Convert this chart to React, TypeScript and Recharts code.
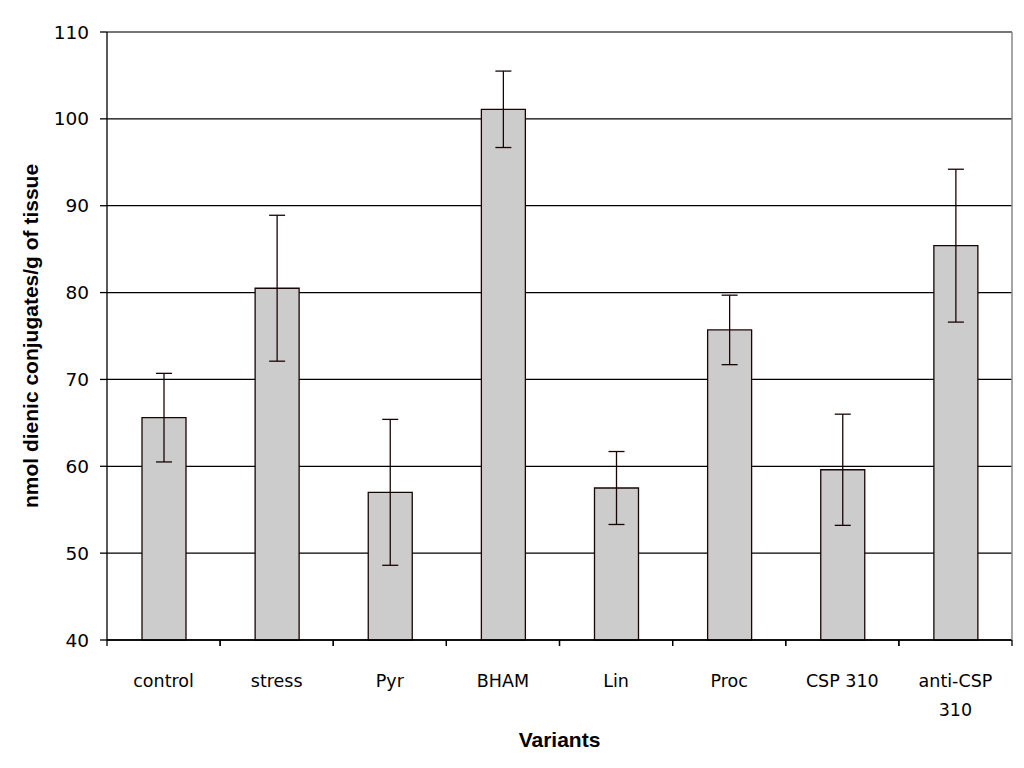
import { Bar, BarChart, CartesianGrid, ErrorBar, Label, ReferenceLine, XAxis, YAxis } from 'recharts';

// values
const variants = ['control', 'stress', 'Pyr', 'BHAM', 'Lin', 'Proc', 'CSP 310', 'anti-CSP 310'];
const means = [65.6, 80.5, 57.0, 101.1, 57.5, 75.7, 59.6, 85.4];
const errors = [5.1, 8.4, 8.4, 4.4, 4.2, 4.0, 6.4, 8.8];
const yTicks = [40, 50, 60, 70, 80, 90, 100, 110];

const data = variants.map((name, i) => ({ name, value: means[i], err: errors[i] }));

const labelFont = '"Liberation Sans", Arial, sans-serif';
const tickFont = '"DejaVu Sans", Verdana, sans-serif';

// x axis is drawn with tickMargin 0 and no tick lines, so y is the axis line
function CategoryTick({ x, y, payload }: any) {
  const text: string = payload.value;
  const half = payload.offset ?? 56.5;
  // long labels wrap at the last space, like the original
  const cut = text.lastIndexOf(' ');
  const lines = text.length > 8 ? [text.slice(0, cut), text.slice(cut + 1)] : [text];
  return (
    <g>
      <line x1={x - half} x2={x - half} y1={y} y2={y + 6} stroke="#000" strokeWidth={1.3} />
      <line x1={x + half} x2={x + half} y1={y} y2={y + 6} stroke="#000" strokeWidth={1.3} />
      <text x={x} y={y + 47} textAnchor="middle" fontFamily={tickFont} fontSize={17.5} fill="#000">
        {lines.map((l, i) => (
          <tspan key={i} x={x} dy={i === 0 ? 0 : 29}>
            {l}
          </tspan>
        ))}
      </text>
    </g>
  );
}

export default function App() {
  return (
    <div style={{ width: 1024, height: 768 }}>
      <style>{'body{margin:0}'}</style>
      <BarChart
        width={1024}
        height={768}
        data={data}
        margin={{ top: 32, right: 0, left: 0, bottom: 0 }}
        barSize={44}
      >
        <CartesianGrid vertical={false} stroke="#000" strokeWidth={1.3} />
        <ReferenceLine y={110} stroke="#888" strokeWidth={1.5} />
        <XAxis
          dataKey="name"
          height={128}
          stroke="#000"
          strokeWidth={1.3}
          tickLine={false}
          tickSize={0}
          tickMargin={0}
          interval={0}
          tick={<CategoryTick />}
        >
          <Label
            content={({ viewBox }: any) => (
              <text
                x={viewBox.x + viewBox.width / 2}
                y={747}
                textAnchor="middle"
                fontFamily={labelFont}
                fontWeight="bold"
                fontSize={21}
                fill="#000"
              >
                Variants
              </text>
            )}
          />
        </XAxis>
        <YAxis
          domain={[40, 110]}
          ticks={yTicks}
          width={107}
          tickSize={7}
          tickMargin={11}
          interval={0}
          stroke="#000"
          strokeWidth={1.3}
          tick={{ fill: '#000', fontSize: 18.5, fontFamily: tickFont }}
        >
          <Label
            content={({ viewBox }: any) => {
              const cy = viewBox.y + viewBox.height / 2;
              return (
                <text
                  x={38}
                  y={cy}
                  transform={`rotate(-90 38 ${cy})`}
                  textAnchor="middle"
                  fontFamily={labelFont}
                  fontWeight="bold"
                  fontSize={21}
                  fill="#000"
                >
                  nmol dienic conjugates/g of tissue
                </text>
              );
            }}
          />
        </YAxis>
        <YAxis
          yAxisId="right"
          orientation="right"
          domain={[40, 110]}
          width={12}
          tick={false}
          tickLine={false}
          stroke="#888"
          strokeWidth={1.5}
        />
        <Bar dataKey="value" fill="#cccccc" stroke="#1a0505" strokeWidth={1.3} isAnimationActive={false}>
          <ErrorBar dataKey="err" width={8} stroke="#1a0505" strokeWidth={1.3} />
        </Bar>
      </BarChart>
    </div>
  );
}
